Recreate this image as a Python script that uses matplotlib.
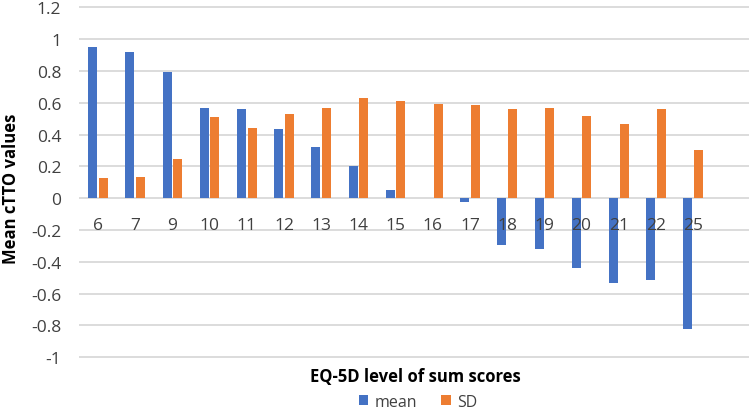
import matplotlib
matplotlib.use("Agg")
import matplotlib.pyplot as plt
import numpy as np

plt.rcParams['font.family'] = ['Open Sans', 'DejaVu Sans']

# EQ-5D sum score levels
levels = ['6', '7', '9', '10', '11', '12', '13', '14', '15', '16', '17',
          '18', '19', '20', '21', '22', '25']
mean_ctto = [0.952, 0.920, 0.792, 0.568, 0.562, 0.434, 0.319, 0.203, 0.050,
             0.0, -0.022, -0.295, -0.322, -0.438, -0.533, -0.512, -0.823]
sd_ctto = [0.124, 0.136, 0.249, 0.509, 0.440, 0.528, 0.564, 0.629, 0.614,
           0.594, 0.587, 0.560, 0.566, 0.519, 0.466, 0.560, 0.300]
yticks = [-1, -0.8, -0.6, -0.4, -0.2, 0, 0.2, 0.4, 0.6, 0.8, 1, 1.2]

blue = '#4472C4'
orange = '#ED7D31'
grid_col = '#d9d9d9'
txt_col = '#404040'

fig = plt.figure(figsize=(7.49, 4.10), dpi=100)
ax = fig.add_axes([0.106, 0.124, 0.894, 0.858])

x = np.arange(len(levels))
w = 0.245
ax.bar(x - 0.142, mean_ctto, w, color=blue, label='mean', zorder=2)
ax.bar(x + 0.142, sd_ctto, w, color=orange, label='SD', zorder=2)

for y in yticks:
    ax.axhline(y, color=grid_col, lw=1.3, zorder=0)

ax.set_xlim(-0.5, len(levels) + 0.5)
ax.set_ylim(-1.006, 1.206)
ax.set_yticks(yticks)
ax.set_yticklabels(['%g' % t for t in yticks], fontsize=12.5, color=txt_col)
ax.tick_params(axis='y', length=0, pad=13)

ax.set_xticks([])
for i, lab in enumerate(levels):
    ax.annotate(lab, (x[i], 0), xytext=(0, -19), textcoords='offset points',
                ha='center', va='center', fontsize=12.5, color=txt_col, zorder=5)

for s in ax.spines.values():
    s.set_visible(False)

ax.set_ylabel('Mean cTTO values', fontsize=12, fontweight='bold')
ax.yaxis.set_label_coords(-0.088, 0.485)
fig.text(0.555, 0.08, 'EQ-5D level of sum scores', ha='center', va='center',
         fontsize=12, fontweight='bold')

fig.legend(loc='center', bbox_to_anchor=(0.558, 0.018), ncol=2, frameon=False,
           fontsize=11.5, handlelength=0.6, handleheight=0.6, handletextpad=0.4,
           columnspacing=1.5, labelcolor=txt_col)

fig.savefig('out.png', dpi=100)
